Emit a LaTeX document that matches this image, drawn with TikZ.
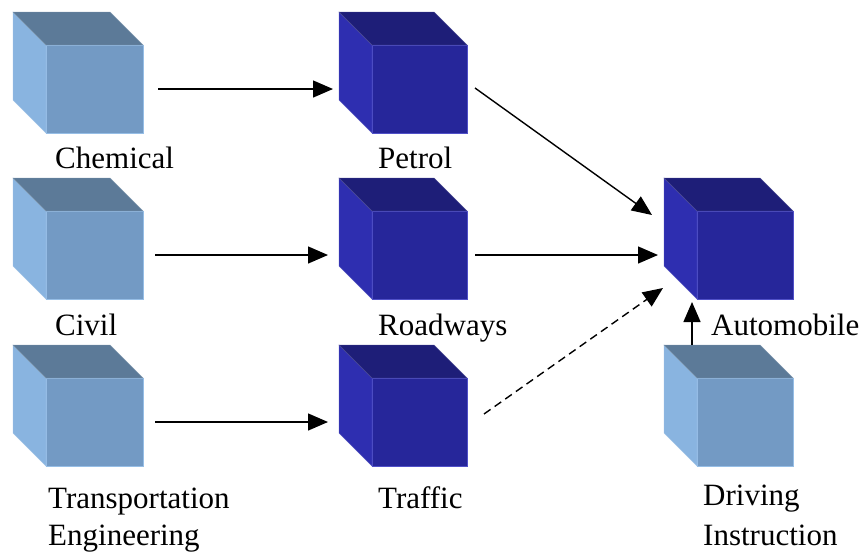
\documentclass[tikz,border=0pt]{standalone}
\usepackage{fontspec}
\setmainfont{Liberation Serif}
\usetikzlibrary{arrows.meta}
\definecolor{lleft}{RGB}{137,180,224}
\definecolor{ltop}{RGB}{92,122,152}
\definecolor{lfront}{RGB}{115,154,196}
\definecolor{ledge}{RGB}{150,190,230}
\definecolor{dleft}{RGB}{46,46,176}
\definecolor{dtop}{RGB}{30,30,120}
\definecolor{dfront}{RGB}{38,38,154}
\definecolor{dedge}{RGB}{80,80,200}
\tikzset{
  face/.style={minimum width=96pt,minimum height=88pt,anchor=north west,inner sep=0pt,outer sep=0pt},
  lightcube/.style={face,fill=lfront,draw=ledge,line width=0.6pt},
  darkcube/.style={face,fill=dfront,draw=dedge,line width=0.6pt},
  lbl/.style={anchor=base west,inner sep=0pt,font=\fontsize{31}{37}\selectfont},
  arr/.style={line width=1.4pt,-{Triangle[length=20pt,width=17pt]}},
}
\newcommand{\cubesides}[3]{% node, left colour, top colour
  \fill[#2,draw=#2!80!white,line width=0.4pt] (#1.north west) -- ++(-33pt,33pt) -- ([xshift=-33pt,yshift=33pt]#1.south west) -- (#1.south west) -- cycle;
  \fill[#3,draw=#3!80!white,line width=0.4pt] (#1.north west) -- ++(-33pt,33pt) -- ([xshift=-33pt,yshift=33pt]#1.north east) -- (#1.north east) -- cycle;
}
\begin{document}
\begin{tikzpicture}[x=1pt,y=-1pt]
\useasboundingbox (0,0) rectangle (864,552);
% front faces
\node[lightcube,minimum width=97pt] (chem) at (46,45) {};
\node[lightcube,minimum width=97pt] (civil) at (46,211) {};
\node[lightcube,minimum width=97pt] (trans) at (46,378) {};
\node[darkcube,minimum width=95pt] (petrol) at (372,45) {};
\node[darkcube,minimum width=95pt] (road) at (372,211) {};
\node[darkcube,minimum width=95pt] (traffic) at (372,378) {};
\node[darkcube] (auto) at (697,211) {};
\node[lightcube] (drive) at (697,378) {};
\cubesides{chem}{lleft}{ltop}
\cubesides{civil}{lleft}{ltop}
\cubesides{trans}{lleft}{ltop}
\cubesides{drive}{lleft}{ltop}
\cubesides{petrol}{dleft}{dtop}
\cubesides{road}{dleft}{dtop}
\cubesides{traffic}{dleft}{dtop}
\cubesides{auto}{dleft}{dtop}
% labels
\node[lbl] (tchem) at (55,168) {Chemical};
\node[lbl] (tpetrol) at (378,168) {Petrol};
\node[lbl] (tcivil) at (55,335) {Civil};
\node[lbl] (troad) at (378,335) {Roadways};
\node[lbl] (tauto) at (711,335) {Automobile};
\node[lbl] (ttrans) at (48,508) {Transportation};
\node[lbl] (teng) at (48,545) {Engineering};
\node[lbl] (ttraffic) at (378,508) {Traffic};
\node[lbl] (tdrive) at (703,505) {Driving};
\node[lbl] (tinstr) at (703,545) {Instruction};
% connectors
\draw[arr] ([xshift=15pt]chem.east) -- ([xshift=-39pt]petrol.west);
\draw[arr] ([xshift=12pt]civil.east) -- ([xshift=-44pt]road.west);
\draw[arr] ([xshift=12pt]trans.east) -- ([xshift=-44pt]traffic.west);
\draw[arr] ([xshift=8pt,yshift=1pt]petrol.east) -- ([xshift=-45pt,yshift=40pt]auto.west);
\draw[arr] ([xshift=8pt]road.east) -- ([xshift=-39pt]auto.west);
\draw[arr,dash pattern=on 8pt off 5pt] ([xshift=17pt,yshift=8pt]traffic.east) -- ([xshift=-34pt,yshift=-33pt]auto.west);
\draw[arr] ([xshift=-53pt,yshift=33pt]drive.north) -- ([xshift=-53pt,yshift=-3pt]auto.south);
\end{tikzpicture}
\end{document}
